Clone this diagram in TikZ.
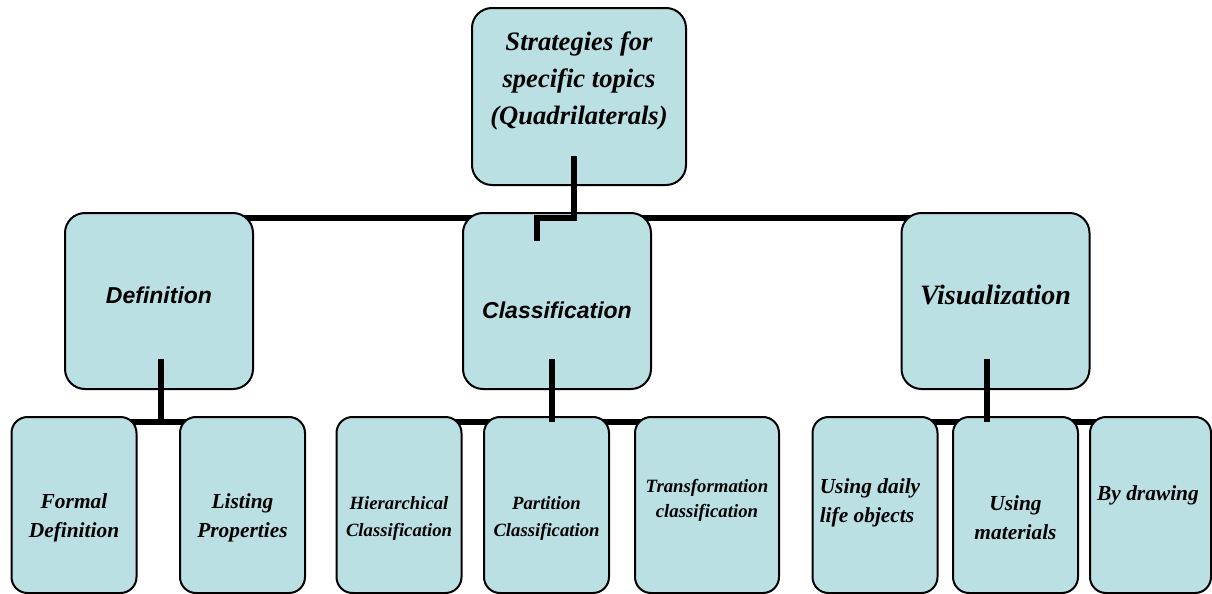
\documentclass[tikz,border=0pt]{standalone}
\usepackage{fontspec}
\setmainfont{Liberation Serif}
\setsansfont{Liberation Sans}
\usetikzlibrary{backgrounds}
\definecolor{boxfill}{RGB}{186,224,228}
\tikzset{
  box/.style={draw=black, line width=1pt, fill=boxfill, rounded corners=10pt},
  topbox/.style={box, minimum width=107pt, minimum height=88.5pt},
  midbox/.style={box, minimum width=94pt, minimum height=88pt},
  lowbox/.style={box, rounded corners=8pt, minimum width=62.5pt, minimum height=88pt},
  txt/.style={align=center, inner sep=0pt},
  toptxt/.style={txt, font=\fontsize{13.3}{18.3}\selectfont\bfseries\itshape},
  sanstxt/.style={txt, font=\fontsize{11.5}{14}\selectfont\sffamily\bfseries\itshape},
  midtxt/.style={txt, font=\fontsize{14}{17}\selectfont\bfseries\itshape},
  lowtxt/.style={txt, font=\fontsize{10.7}{14.5}\selectfont\bfseries\itshape},
  smalltxt/.style={txt, font=\fontsize{9.35}{13.5}\selectfont\bfseries\itshape},
  link/.style={line width=2.8pt},
}
\begin{document}
\begin{tikzpicture}[x=0.5pt, y=-0.5pt]
  \useasboundingbox (0,0) rectangle (1212,594);
  % root
  \node[topbox, label={[toptxt, yshift=7.75pt]center:{Strategies for\\specific topics\\(Quadrilaterals)}}] (strat) at (579,96.5) {};
  % second row
  \node[midbox, label={[sanstxt, yshift=3pt]center:Definition}] (defn) at (159,301) {};
  \node[midbox, label={[sanstxt, yshift=-4.5pt]center:Classification}] (class) at (557,301) {};
  \node[midbox, label={[midtxt, yshift=3pt]center:Visualization}] (visu) at (995.5,301) {};
  % third row
  \node[lowbox, label={[lowtxt, yshift=-6.5pt]center:{Formal\\Definition}}] (formal) at (74,505) {};
  \node[lowbox, label={[lowtxt, yshift=-6.5pt]center:{Listing\\Properties}}] (listing) at (242.5,505) {};
  \node[lowbox, label={[smalltxt, yshift=-6.5pt]center:{Hierarchical\\Classification}}] (hier) at (399,505) {};
  \node[lowbox, label={[smalltxt, yshift=-6.5pt]center:{Partition\\Classification}}] (part) at (546.5,505) {};
  \node[lowbox, minimum width=72pt, label={[smalltxt, font=\fontsize{9.4}{12.5}\selectfont\bfseries\itshape, yshift=2.5pt]center:{Transformation\\classification}}] (trans) at (707,505) {};
  \node[lowbox, label={[lowtxt, align=left, xshift=-2.5pt, yshift=1pt]center:{Using daily\\life objects}}] (daily) at (875,505) {};
  \node[lowbox, label={[lowtxt, yshift=-6.5pt]center:{Using\\materials}}] (mater) at (1015.5,505) {};
  \node[lowbox, minimum width=60.5pt, label={[lowtxt, xshift=-1.25pt, yshift=5pt]center:By drawing}] (drawing) at (1150.5,505) {};
  % bars behind the boxes
  \begin{scope}[on background layer]
    \draw[link] ([yshift=-3pt]defn.north) -- ([yshift=-3pt]visu.north);
    \draw[link] ([yshift=-3pt]formal.north) -- ([yshift=-3pt]listing.north);
    \draw[link] ([yshift=-3pt]hier.north) -- ([yshift=-3pt]trans.north);
    \draw[link] ([yshift=-3pt]daily.north) -- ([yshift=-3pt]drawing.north);
  \end{scope}
  \coordinate (dbar) at ([yshift=-3pt]formal.north);
  % drops
  \draw[link] ([xshift=-2.5pt,yshift=15pt]strat.south) |- ([xshift=-10pt,yshift=-3pt]class.north)
    -- ([xshift=-10pt,yshift=-14.5pt]class.north);
  \draw[link] ([xshift=1pt,yshift=15.5pt]defn.south) -- ([xshift=1pt]defn.south |- dbar);
  \draw[link] ([xshift=-2.5pt,yshift=15.5pt]class.south) -- ([xshift=-2.5pt]class.south |- dbar);
  \draw[link] ([xshift=-4.25pt,yshift=15.5pt]visu.south) -- ([xshift=-4.25pt]visu.south |- dbar);
\end{tikzpicture}
\end{document}
